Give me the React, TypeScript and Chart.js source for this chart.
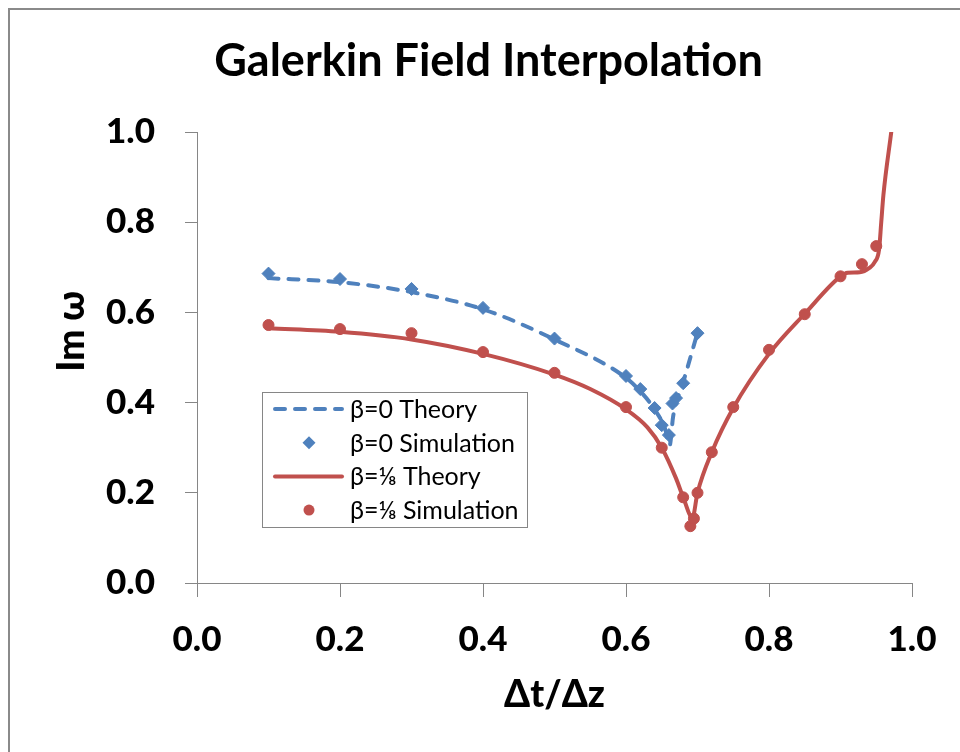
import React, { useEffect, useRef } from 'react';
import { Chart, registerables } from 'chart.js';

Chart.register(...registerables);

// ---------- text ----------
const CHART_TITLE = 'Galerkin Field Interpolation';
const X_TITLE = 'Δt/Δz';
const Y_TITLE = 'Im ω';
const SERIES_LABELS = ['β=0 Theory', 'β=0 Simulation', 'β=⅛ Theory', 'β=⅛ Simulation'];

// ---------- axes ----------
const X_MIN = 0;
const X_MAX = 1;
const X_STEP = 0.2;
const Y_MIN = 0;
const Y_MAX = 1;
const Y_STEP = 0.2;

// ---------- data ----------
const beta0TheoryX = [0.10, 0.20, 0.30, 0.40, 0.50, 0.60, 0.62, 0.64, 0.655, 0.661, 0.666, 0.68, 0.70];
const beta0TheoryY = [0.676, 0.667, 0.645, 0.607, 0.540, 0.455, 0.425, 0.385, 0.340, 0.305, 0.370, 0.445, 0.555];

const beta0SimX = [0.10, 0.20, 0.30, 0.40, 0.50, 0.60, 0.62, 0.64, 0.65, 0.66, 0.665, 0.67, 0.68, 0.70];
const beta0SimY = [0.686, 0.674, 0.652, 0.610, 0.542, 0.459, 0.430, 0.388, 0.350, 0.328, 0.398, 0.410, 0.443, 0.554];

const beta8TheoryX = [0.10, 0.20, 0.30, 0.40, 0.50, 0.55, 0.60, 0.63, 0.65, 0.67, 0.68, 0.693, 0.70, 0.72, 0.75, 0.80, 0.85, 0.90, 0.91, 0.927, 0.940, 0.948, 0.954, 0.957, 0.960, 0.971];
const beta8TheoryY = [0.565, 0.557, 0.540, 0.508, 0.462, 0.430, 0.385, 0.345, 0.300, 0.232, 0.190, 0.145, 0.200, 0.290, 0.388, 0.508, 0.597, 0.680, 0.688, 0.689, 0.698, 0.712, 0.740, 0.800, 0.860, 1.000];

const beta8SimX = [0.10, 0.20, 0.30, 0.40, 0.50, 0.60, 0.65, 0.68, 0.69, 0.695, 0.70, 0.72, 0.75, 0.80, 0.85, 0.90, 0.93, 0.95];
const beta8SimY = [0.572, 0.563, 0.554, 0.512, 0.466, 0.390, 0.300, 0.190, 0.126, 0.143, 0.200, 0.290, 0.390, 0.517, 0.596, 0.680, 0.707, 0.747];

// ---------- style ----------
const BLUE = '#4F81BD';
const RED = '#C0504D';
const AXIS_GREY = '#868686';
const FONT = "Lato, 'Open Sans', 'DejaVu Sans', sans-serif";

const toPoints = (xs: number[], ys: number[]) => xs.map((x, i) => ({ x, y: ys[i] }));

const framePlugin = {
  id: 'frame',
  beforeDraw(chart: any) {
    const ctx = chart.ctx;
    ctx.save();
    ctx.fillStyle = '#ffffff';
    ctx.fillRect(0, 0, chart.width, chart.height);
    ctx.fillStyle = '#8a8a8a';
    ctx.fillRect(8, 8, chart.width - 8, 2);
    ctx.fillRect(8, 8, 2, chart.height - 8);
    ctx.restore();
  },
};

const yTitlePlugin = {
  id: 'yTitle',
  afterDraw(chart: any) {
    const ctx = chart.ctx;
    const area = chart.chartArea;
    ctx.save();
    ctx.font = `900 37px ${FONT}`;
    ctx.fillStyle = '#000000';
    ctx.textAlign = 'center';
    ctx.textBaseline = 'alphabetic';
    ctx.translate(84, area.top + (area.bottom - area.top) * 0.442);
    ctx.rotate(-Math.PI / 2);
    ctx.fillText(Y_TITLE, 0, 0);
    ctx.restore();
  },
};

const boxLegendPlugin = {
  id: 'boxLegend',
  afterDatasetsDraw(chart: any) {
    const ctx = chart.ctx;
    const bx = 262.5;
    const by = 392.5;
    const bw = 265;
    const bh = 135;
    ctx.save();
    ctx.fillStyle = '#ffffff';
    ctx.fillRect(bx, by, bw, bh);
    ctx.strokeStyle = AXIS_GREY;
    ctx.lineWidth = 1;
    ctx.strokeRect(bx, by, bw, bh);
    const datasets = chart.data.datasets;
    datasets.forEach((ds: any, i: number) => {
      const cy = by + 16.5 + i * 33.7;
      if (ds.showLine !== false) {
        ctx.save();
        ctx.strokeStyle = ds.borderColor;
        ctx.lineWidth = ds.borderWidth;
        ctx.lineCap = ds.borderCapStyle || 'butt';
        ctx.setLineDash(ds.borderDash || []);
        ctx.beginPath();
        ctx.moveTo(275, cy);
        ctx.lineTo(342, cy);
        ctx.stroke();
        ctx.restore();
      } else {
        const cx = 309;
        ctx.fillStyle = ds.pointBackgroundColor;
        ctx.beginPath();
        if (ds.pointStyle === 'rectRot') {
          const r = 6.5;
          ctx.moveTo(cx - r, cy);
          ctx.lineTo(cx, cy - r);
          ctx.lineTo(cx + r, cy);
          ctx.lineTo(cx, cy + r);
          ctx.closePath();
        } else {
          ctx.arc(cx, cy, 5.5, 0, Math.PI * 2);
        }
        ctx.fill();
      }
      ctx.fillStyle = '#000000';
      ctx.font = `25px ${FONT}`;
      ctx.textAlign = 'left';
      ctx.textBaseline = 'middle';
      ctx.fillText(ds.label, 350, cy + 1);
    });
    ctx.restore();
  },
};

export default function App() {
  const canvasRef = useRef<HTMLCanvasElement | null>(null);

  useEffect(() => {
    const canvas = canvasRef.current;
    if (!canvas) return;
    const chart = new Chart(canvas, {
      type: 'scatter',
      data: {
        datasets: [
          {
            label: SERIES_LABELS[0],
            data: toPoints(beta0TheoryX, beta0TheoryY),
            showLine: true,
            borderColor: BLUE,
            backgroundColor: BLUE,
            borderWidth: 4,
            borderDash: [10, 10],
            borderCapStyle: 'round',
            cubicInterpolationMode: 'monotone',
            pointRadius: 0,
            order: 3,
          },
          {
            label: SERIES_LABELS[1],
            data: toPoints(beta0SimX, beta0SimY),
            showLine: false,
            pointStyle: 'rectRot',
            pointRadius: 6.5,
            pointBorderWidth: 1,
            pointBackgroundColor: BLUE,
            pointBorderColor: BLUE,
            backgroundColor: BLUE,
            borderColor: BLUE,
            order: 1,
          },
          {
            label: SERIES_LABELS[2],
            data: toPoints(beta8TheoryX, beta8TheoryY),
            showLine: true,
            borderColor: RED,
            backgroundColor: RED,
            borderWidth: 4,
            borderCapStyle: 'round',
            borderJoinStyle: 'round',
            cubicInterpolationMode: 'monotone',
            pointRadius: 0,
            order: 2,
          },
          {
            label: SERIES_LABELS[3],
            data: toPoints(beta8SimX, beta8SimY),
            showLine: false,
            pointStyle: 'circle',
            pointRadius: 5.5,
            pointBorderWidth: 1,
            pointBackgroundColor: RED,
            pointBorderColor: RED,
            backgroundColor: RED,
            borderColor: RED,
            order: 0,
          },
        ] as any,
      },
      options: {
        animation: false,
        responsive: false,
        devicePixelRatio: 1,
        layout: { padding: { left: 65, right: 48, top: 0, bottom: 0 } },
        plugins: {
          legend: { display: false },
          tooltip: { enabled: false },
          title: {
            display: true,
            text: CHART_TITLE,
            color: '#000000',
            font: { family: FONT, size: 45, weight: 'bold', lineHeight: 1.2 },
            padding: { top: 34, bottom: 44 },
          },
        },
        scales: {
          x: {
            type: 'linear',
            min: X_MIN,
            max: X_MAX,
            afterFit: (scale: any) => {
              scale.height = 169;
            },
            ticks: {
              stepSize: X_STEP,
              color: '#000000',
              padding: 22,
              font: { family: FONT, size: 35, weight: '900' },
              callback: (v: any) => Number(v).toFixed(1),
              maxRotation: 0,
            },
            grid: {
              drawOnChartArea: false,
              drawTicks: true,
              tickLength: 14,
              color: AXIS_GREY,
              lineWidth: 1,
            },
            border: { display: true, color: AXIS_GREY, width: 1 },
            title: {
              display: true,
              text: X_TITLE,
              color: '#000000',
              font: { family: FONT, size: 37, weight: '900', lineHeight: 1.2 },
              padding: { top: 0, bottom: 35 },
            },
          },
          y: {
            type: 'linear',
            min: Y_MIN,
            max: Y_MAX,
            afterFit: (scale: any) => {
              scale.width = 132;
            },
            ticks: {
              stepSize: Y_STEP,
              color: '#000000',
              padding: 30,
              font: { family: FONT, size: 35, weight: '900' },
              callback: (v: any) => Number(v).toFixed(1),
            },
            grid: {
              drawOnChartArea: false,
              drawTicks: true,
              tickLength: 12,
              color: AXIS_GREY,
              lineWidth: 1,
            },
            border: { display: true, color: AXIS_GREY, width: 1 },
            title: { display: false },
          },
        },
      } as any,
      plugins: [framePlugin, boxLegendPlugin, yTitlePlugin],
    });
    return () => chart.destroy();
  }, []);

  return (
    <div style={{ position: 'absolute', left: 0, top: 0, width: 960, height: 752 }}>
      <canvas ref={canvasRef} width={960} height={752} style={{ display: 'block' }} />
    </div>
  );
}
